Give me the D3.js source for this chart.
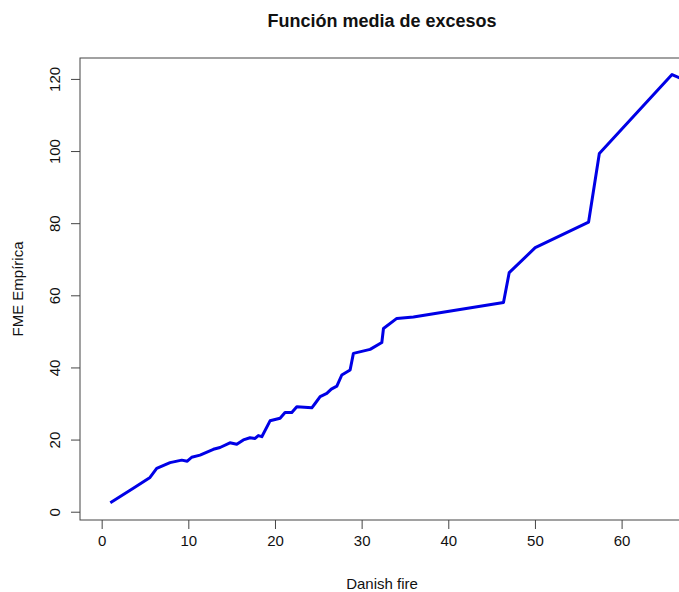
<!DOCTYPE html>
<html>
<head>
<meta charset="utf-8">
<script src="https://cdn.jsdelivr.net/npm/d3@7"></script>
<style>
	body { margin: 0; background: #fff; }
	svg { display: block; font-family: "Liberation Sans", Arial, sans-serif; }
</style>
</head>
<body>
<div id="chart"></div>
<script>
// mean excess function, Danish fire data
var thresholds = [1.0, 3.65, 5.58, 6.35, 7.89, 9.24, 9.88, 10.39, 11.35, 12.89, 13.66, 14.8,
	15.59, 16.35, 17.12, 17.7, 18.08, 18.48, 19.43, 20.59, 21.16, 21.94, 22.52, 24.25,
	24.63, 25.21, 25.98, 26.5, 27.14, 27.71, 28.67, 29.05, 30.98, 32.33, 32.52, 34.06,
	35.98, 38.3, 46.37, 47.03, 50.03, 56.19, 57.43, 65.82, 67.0];
var meanExcess = [2.5, 6.5, 9.5, 12.0, 13.6, 14.3, 14.0, 15.1, 15.7, 17.3, 17.8, 19.1,
	18.7, 19.9, 20.5, 20.3, 21.1, 20.8, 25.2, 25.9, 27.5, 27.5, 29.1, 28.8,
	30.0, 31.9, 32.8, 34.0, 34.8, 37.9, 39.3, 43.9, 45.0, 46.9, 50.8, 53.6,
	54.0, 54.9, 58.0, 66.3, 73.2, 80.3, 99.3, 121.2, 120.0];
var xTicks = [0, 10, 20, 30, 40, 50, 60];
var yTicks = [0, 20, 40, 60, 80, 100, 120];

var titleText = "Función media de excesos";
var xLabel = "Danish fire";
var yLabel = "FME Empírica";

var width = 679, height = 592;
// plot box (right side runs past the picture edge)
var box = { left: 80, top: 58, right: 684, bottom: 520 };

var svg = d3.select("#chart").append("svg")
	.attr("width", width)
	.attr("height", height);

var x = d3.scaleLinear().domain([-2.5, 67.2]).range([box.left, box.right]);
var y = d3.scaleLinear().domain([-2.3, 125.8]).range([box.bottom, box.top]);

svg.append("clipPath").attr("id", "plotclip")
	.append("rect")
	.attr("x", box.left).attr("y", box.top)
	.attr("width", box.right - box.left).attr("height", box.bottom - box.top);

var data = thresholds.map(function(d, i) { return [d, meanExcess[i]]; });

var line = d3.line()
	.x(function(d) { return x(d[0]); })
	.y(function(d) { return y(d[1]); });

svg.append("path")
	.datum(data)
	.attr("clip-path", "url(#plotclip)")
	.attr("d", line)
	.attr("fill", "none")
	.attr("stroke", "#0000e6")
	.attr("stroke-width", 3)
	.attr("stroke-linejoin", "round");

// axes
var xAxis = svg.append("g")
	.attr("transform", "translate(0," + box.bottom + ")")
	.call(d3.axisBottom(x).tickValues(xTicks).tickSize(9).tickPadding(6).tickFormat(d3.format("d")));
xAxis.select(".domain").remove();
xAxis.selectAll("line").attr("stroke", "#444");
xAxis.selectAll("text").attr("font-size", 15).attr("fill", "#111").attr("font-family", "Liberation Sans, Arial, sans-serif");

var yAxis = svg.append("g")
	.attr("transform", "translate(" + box.left + ",0)")
	.call(d3.axisLeft(y).tickValues(yTicks).tickSize(9).tickFormat(d3.format("d")));
yAxis.select(".domain").remove();
yAxis.selectAll("line").attr("stroke", "#444");
yAxis.selectAll("text")
	.attr("font-size", 15)
	.attr("fill", "#111")
	.attr("font-family", "Liberation Sans, Arial, sans-serif")
	.attr("text-anchor", "middle")
	.attr("dy", null)
	.attr("x", null)
	.attr("transform", "translate(-20,0) rotate(-90)");

// box
svg.append("rect")
	.attr("x", box.left).attr("y", box.top)
	.attr("width", box.right - box.left).attr("height", box.bottom - box.top)
	.attr("fill", "none")
	.attr("stroke", "#444")
	.attr("stroke-width", 1);

var cx = (box.left + box.right) / 2;

svg.append("text")
	.attr("x", cx).attr("y", 27)
	.attr("text-anchor", "middle")
	.attr("font-size", 18)
	.attr("font-weight", "bold")
	.attr("fill", "#111")
	.text(titleText);

svg.append("text")
	.attr("x", cx).attr("y", 589)
	.attr("text-anchor", "middle")
	.attr("font-size", 15)
	.attr("fill", "#111")
	.text(xLabel);

svg.append("text")
	.attr("transform", "translate(23," + ((box.top + box.bottom) / 2) + ") rotate(-90)")
	.attr("text-anchor", "middle")
	.attr("font-size", 15)
	.attr("fill", "#111")
	.text(yLabel);
</script>
</body>
</html>
